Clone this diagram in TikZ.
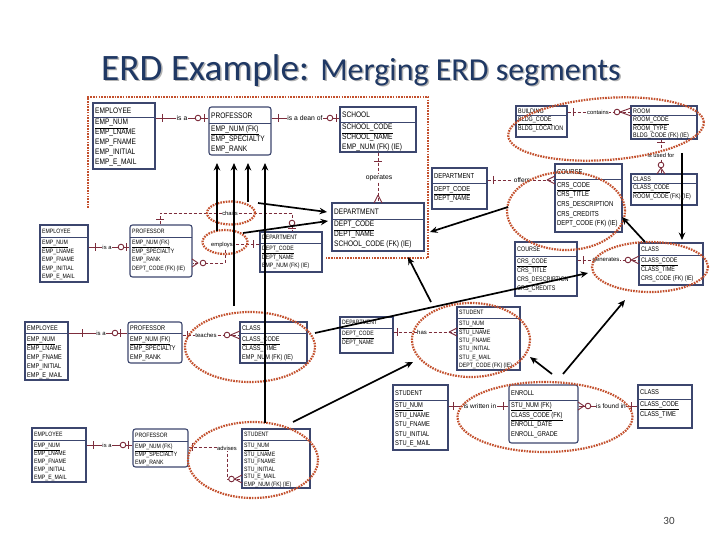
\documentclass[tikz,border=0pt]{standalone}
\usepackage{fontspec}
\setmainfont{Liberation Sans}
\newfontfamily\erd[FakeStretch=0.82]{Liberation Sans}
\newfontfamily\ttlfont{Carlito}
\usetikzlibrary{shapes.geometric,fit,arrows.meta}
\definecolor{relc}{RGB}{125,45,60}
\definecolor{boxc}{RGB}{60,70,110}
\definecolor{hlc}{RGB}{195,80,45}
\definecolor{ttlc}{RGB}{31,56,100}
\def\efs{\fontsize{8}{10}\selectfont}
\def\lfs{\fontsize{6.3}{7}\selectfont}
\def\btop{2}
\tikzset{
 ebox/.style={draw=boxc, line width=1.1pt, inner sep=0pt, fill=white},
 eline/.style={draw=boxc, line width=0.9pt},
 etitle/.style={anchor=west, inner sep=0pt, font=\erd\efs},
 ebody/.style={anchor=north west, inner sep=0pt, align=left, font=\erd\efs},
 rel/.style={draw=relc, line width=0.9pt},
 reld/.style={rel, dash pattern=on 3pt off 2pt},
 rsym/.style={draw=relc, line width=0.9pt},
 rlab/.style={fill=white, inner sep=0.6pt, font=\lfs},
 hl/.style={draw=hlc, line width=2.2pt, dash pattern=on 1.6pt off 1.1pt},
 hlell/.style={hl, ellipse, inner sep=0pt},
 blk/.style={draw=black, line width=1.7pt, -{Stealth[length=7.5pt,width=6.5pt]}},
}
% entity: name, x1, y1, x2, y2, header line y, title, body, extra style
\newcommand\erdent[9]{%
 \path (#2,#3) coordinate (#1-nw) (#4,#5) coordinate (#1-se);
 \node[ebox,fit=(#1-nw)(#1-se),#9] (#1) {};
 \draw[eline] (#2,#6) -- (#4,#6);
 \node[etitle] (#1-t) at ({#2+2},{(#3+#6)/2+0.3}) {#7};
 \node[ebody] (#1-b) at ({#2+2},{#6+\btop}) {#8};
}
\newcommand\tickV[2]{\draw[rsym] (#1,{#2-4}) -- (#1,{#2+4});}
\newcommand\tickH[2]{\draw[rsym] ({#1-4},#2) -- ({#1+4},#2);}
\newcommand\rcirc[2]{\draw[rsym, fill=white] (#1,#2) circle (2.8);}
\newcommand\crowH[3]{\draw[rsym] (#1,#3) -- (#2,{#3-4}) (#1,#3) -- (#2,{#3+4});}
\newcommand\crowV[3]{\draw[rsym] (#3,#1) -- ({#3-4},#2) (#3,#1) -- ({#3+4},#2);}
\begin{document}
\begin{tikzpicture}[x=1pt,y=-1pt]
\path[use as bounding box, fill=white] (0,0) rectangle (720,540);
% title
\node[anchor=base west, inner sep=0pt, text=black!30] (title-sh) at (102.5,82) {\ttlfont\fontsize{37.3}{40}\selectfont ERD Example: \fontsize{32}{36}\selectfont Merging ERD segments};
\node[anchor=base west, inner sep=0pt, text=ttlc] (title) at (101,80.5) {\ttlfont\fontsize{37.3}{40}\selectfont ERD Example: \fontsize{32}{36}\selectfont Merging ERD segments};
\node[font=\ttlfont\fontsize{11}{12}\selectfont, text=black!75, inner sep=0pt] (pg) at (669,521) {30};

% ---------- top segment
\def\efs{\fontsize{8}{10}\selectfont}\def\btop{2.2}
\erdent{emp1}{93}{103}{155}{169}{117}{EMPLOYEE}{\underline{EMP\_NUM}\\EMP\_LNAME\\EMP\_FNAME\\EMP\_INITIAL\\EMP\_E\_MAIL}{}
\erdent{prof1}{209}{107}{271}{155}{123}{PROFESSOR}{\underline{EMP\_NUM (FK)}\\EMP\_SPECIALTY\\EMP\_RANK}{rounded corners=2.5pt}
\erdent{school}{340}{107}{416}{152}{122}{SCHOOL}{\underline{SCHOOL\_CODE}\\SCHOOL\_NAME\\EMP\_NUM (FK) (IE)}{}
\erdent{dept1}{332}{203}{424}{251}{219}{DEPARTMENT}{\underline{DEPT\_CODE}\\DEPT\_NAME\\SCHOOL\_CODE (FK) (IE)}{}

% ---------- top right
\def\efs{\fontsize{6.6}{7.2}\selectfont}\def\btop{2}
\erdent{bldg}{516}{106}{567}{137}{115}{BUILDING}{\underline{BLDG\_CODE}\\BLDG\_LOCATION}{}
\erdent{room}{631}{106}{697}{139}{115}{ROOM}{\underline{ROOM\_CODE}\\ROOM\_TYPE\\BLDG\_CODE (FK) (IE)}{}
\erdent{class1}{631}{174}{697}{205}{183}{CLASS}{\underline{CLASS\_CODE}\\ROOM\_CODE (FK) (IE)}{}
\def\efs{\fontsize{7.2}{9.6}\selectfont}\def\btop{3}
\erdent{dept2}{432}{168}{487}{209}{183}{DEPARTMENT}{\underline{DEPT\_CODE}\\DEPT\_NAME}{}
\erdent{course1}{555}{164}{622}{232}{179}{COURSE}{\underline{CRS\_CODE}\\CRS\_TITLE\\CRS\_DESCRIPTION\\CRS\_CREDITS\\DEPT\_CODE (FK) (IE)}{}

% ---------- left middle
\def\efs{\fontsize{6.3}{8.5}\selectfont}\def\btop{3.2}
\erdent{emp2}{40}{225}{88}{282}{237}{EMPLOYEE}{\underline{EMP\_NUM}\\EMP\_LNAME\\EMP\_FNAME\\EMP\_INITIAL\\EMP\_E\_MAIL}{}
\erdent{prof2}{130}{225}{192}{277}{237}{PROFESSOR}{\underline{EMP\_NUM (FK)}\\EMP\_SPECIALTY\\EMP\_RANK\\DEPT\_CODE (FK) (IE)}{rounded corners=2.5pt}
\erdent{dept3}{260}{232}{322}{272}{243}{DEPARTMENT}{\underline{DEPT\_CODE}\\DEPT\_NAME\\EMP\_NUM (FK) (IE)}{}

% ---------- middle row
\def\efs{\fontsize{6.8}{9}\selectfont}\def\btop{3.3}
\erdent{emp3}{25}{322}{68}{380}{333}{EMPLOYEE}{\underline{EMP\_NUM}\\EMP\_LNAME\\EMP\_FNAME\\EMP\_INITIAL\\EMP\_E\_MAIL}{}
\erdent{prof3}{128}{322}{182}{363}{333}{PROFESSOR}{\underline{EMP\_NUM (FK)}\\EMP\_SPECIALTY\\EMP\_RANK}{rounded corners=2.5pt}
\erdent{class2}{240}{322}{307}{363}{333}{CLASS}{\underline{CLASS\_CODE}\\CLASS\_TIME\\EMP\_NUM (FK) (IE)}{}
\def\efs{\fontsize{6.3}{8.4}\selectfont}\def\btop{3}
\erdent{dept4}{340}{317}{393}{353}{328}{DEPARTMENT}{\underline{DEPT\_CODE}\\DEPT\_NAME}{}
\erdent{student1}{457}{307}{520}{370}{318}{STUDENT}{\underline{STU\_NUM}\\STU\_LNAME\\STU\_FNAME\\STU\_INITIAL\\STU\_E\_MAIL\\DEPT\_CODE (FK) (IE)}{}
\def\efs{\fontsize{6.6}{9.1}\selectfont}\def\btop{2.3}
\erdent{course2}{515}{242}{577}{296}{256}{COURSE}{\underline{CRS\_CODE}\\CRS\_TITLE\\CRS\_DESCRIPTION\\CRS\_CREDITS}{}
\erdent{class3}{639}{243}{703}{285}{255}{CLASS}{\underline{CLASS\_CODE}\\CLASS\_TIME\\CRS\_CODE (FK) (IE)}{}

% ---------- bottom right
\def\efs{\fontsize{7}{9.5}\selectfont}\def\btop{2.5}
\erdent{student2}{393}{385}{448}{450}{400}{STUDENT}{\underline{STU\_NUM}\\STU\_LNAME\\STU\_FNAME\\STU\_INITIAL\\STU\_E\_MAIL}{}
\erdent{enroll}{509}{385}{578}{443}{400}{ENROLL}{\underline{STU\_NUM (FK)}\\\underline{CLASS\_CODE (FK)}\\ENROLL\_DATE\\ENROLL\_GRADE}{rounded corners=2.5pt}
\erdent{class4}{638}{385}{692}{428}{399}{CLASS}{\underline{CLASS\_CODE}\\CLASS\_TIME}{}

% ---------- bottom left
\def\efs{\fontsize{6.3}{8}\selectfont}\def\btop{2.8}
\erdent{emp4}{32}{428}{86}{482}{440}{EMPLOYEE}{\underline{EMP\_NUM}\\EMP\_LNAME\\EMP\_FNAME\\EMP\_INITIAL\\EMP\_E\_MAIL}{}
\erdent{prof4}{133}{429}{188}{467}{441}{PROFESSOR}{\underline{EMP\_NUM (FK)}\\EMP\_SPECIALTY\\EMP\_RANK}{rounded corners=2.5pt}
\def\efs{\fontsize{6.3}{7.6}\selectfont}
\erdent{student3}{242}{429}{310}{488}{440}{STUDENT}{\underline{STU\_NUM}\\STU\_LNAME\\STU\_FNAME\\STU\_INITIAL\\STU\_E\_MAIL\\EMP\_NUM (FK) (IE)}{}

% ---------- relationships
\def\lfs{\fontsize{6.8}{7.5}\selectfont}
\draw[rel] (emp1.east |- 0,118) -- (prof1.west |- 0,118);
\tickV{162}{118} \node[rlab] (l-isa1) at (182,118) {is a}; \rcirc{198}{118} \tickV{204}{118}
\draw[rel] (prof1.east |- 0,118) -- (school.west |- 0,118);
\tickV{278}{118} \node[rlab] (l-dean) at (305,118) {is a dean of}; \rcirc{330}{118} \tickV{336}{118}
\draw[reld] (school.south) -- (dept1.north);
\tickH{378}{161} \node[rlab] (l-oper) at (379,178) {operates}; \crowV{195}{203}{378}

\def\lfs{\fontsize{5.8}{6.5}\selectfont}
\draw[reld] (bldg.east |- 0,112) -- (room.west |- 0,112);
\tickV{573}{112} \node[rlab] (l-cont) at (598,112) {contains}; \rcirc{617}{112} \crowH{620}{631}{112}
\draw[reld] (room.south -| 661,0) -- (class1.north -| 661,0);
\tickH{661}{142} \node[rlab] (l-used) at (661,155) {is used for}; \rcirc{661}{165} \crowV{168}{174}{661}
\def\lfs{\fontsize{6.5}{7}\selectfont}
\draw[reld] (dept2.east |- 0,180) -- (course1.west |- 0,180);
\tickV{493}{180} \node[rlab] (l-offers) at (522,180) {offers}; \crowH{547}{555}{180}

\def\lfs{\fontsize{5.8}{6.5}\selectfont}
\draw[rel] (emp2.east |- 0,247) -- (prof2.west |- 0,247);
\tickV{95}{247} \node[rlab] (l-isa2) at (107,247) {is a}; \rcirc{121}{247} \tickV{126}{247}
\draw[reld] (prof2.north -| 160,0) -- (160,213) -- (292,213) -- (dept3.north -| 292,0);
\tickH{160}{219} \node[rlab] (l-chairs) at (230,213) {chairs}; \rcirc{292}{223} \tickH{292}{228.5}
\draw[reld] (dept3.west |- 0,244) -- (225,244) -- (225,263) -- (prof2.east |- 0,263);
\tickV{253}{244} \node[rlab] (l-empl) at (222,245) {employs}; \rcirc{203}{263} \crowH{198}{192}{263}

\def\lfs{\fontsize{6}{7}\selectfont}
\draw[rel] (emp3.east |- 0,333) -- (prof3.west |- 0,333);
\tickV{82}{333} \node[rlab] (l-isa3) at (101,333) {is a}; \rcirc{115}{333} \tickV{120.5}{333}
\draw[reld] (prof3.east |- 0,335) -- (class2.west |- 0,335);
\tickV{187}{335} \node[rlab] (l-teach) at (206,335) {teaches}; \rcirc{227}{335} \crowH{230.5}{240}{335}
\draw[reld] (dept4.east |- 0,332) -- (student1.west |- 0,332);
\tickV{397}{332} \node[rlab] (l-has) at (422,332) {has}; \crowH{449}{457}{332}
\draw[reld] (course2.east |- 0,260) -- (class3.west |- 0,260);
\tickV{583}{260} \node[rlab] (l-gen) at (606,260) {generates}; \rcirc{628}{260} \crowH{631}{639}{260}

\def\lfs{\fontsize{6.5}{7}\selectfont}
\draw[rel] (student2.east |- 0,406) -- (enroll.west |- 0,406);
\tickV{453}{406} \node[rlab] (l-writ) at (480,406) {is written in}; \tickV{503}{406}
\draw[rel] (enroll.east |- 0,406) -- (class4.west |- 0,406);
\crowH{584}{578}{406} \rcirc{588}{406} \node[rlab] (l-found) at (611,406) {is found in}; \tickV{631}{406}

\def\lfs{\fontsize{5.8}{6.5}\selectfont}
\draw[rel] (emp4.east |- 0,445) -- (prof4.west |- 0,445);
\tickV{93}{445} \node[rlab] (l-isa4) at (107,445) {is a}; \rcirc{123}{445} \tickV{128}{445}
\draw[reld] (prof4.east |- 0,447) -- (227,447) -- (227,479) -- (student3.west |- 0,479);
\tickV{192}{447} \node[rlab] (l-adv) at (227,448) {advises}; \rcirc{231.5}{479} \crowH{234.5}{242}{479}

% ---------- highlights
\draw[hl] (88,208) -- (88,97) -- (428,97) -- (428,258) -- (325,258);
\node[hlell, minimum width=196pt, minimum height=62pt, rotate=4] (e-bldg) at (606,129) {};
\node[hlell, minimum width=118pt, minimum height=78pt] (e-course) at (566,211) {};
\node[hlell, minimum width=116pt, minimum height=50pt] (e-class) at (650,267) {};
\node[hlell, minimum width=118pt, minimum height=74pt] (e-stu) at (471,340) {};
\node[hlell, minimum width=130pt, minimum height=70pt] (e-teach) at (250,347) {};
\node[hlell, minimum width=48pt, minimum height=23pt] (e-chairs) at (231,213) {};
\node[hlell, minimum width=45pt, minimum height=24pt] (e-empl) at (225,242) {};
\node[hlell, minimum width=175pt, minimum height=70pt] (e-enroll) at (545,417) {};
\node[hlell, minimum width=130pt, minimum height=76pt] (e-adv) at (253,460) {};

% ---------- black arrows
\coordinate (a1s) at (217,231); \coordinate (a1e) at (217,163);
\coordinate (a2s) at (234,306); \coordinate (a2e) at (234,163);
\coordinate (a3s) at (248,202); \coordinate (a3e) at (248,163);
\coordinate (a4s) at (265,423); \coordinate (a4e) at (265,163);
\coordinate (a5s) at (258,203); \coordinate (a5e) at (327,212);
\coordinate (a6s) at (243,233); \coordinate (a6e) at (328,221);
\coordinate (a7s) at (508,207); \coordinate (a7e) at (430,232);
\coordinate (a8s) at (431,302); \coordinate (a8e) at (408,257);
\coordinate (a9s) at (315,333); \coordinate (a9e) at (588,273);
\coordinate (a10s) at (682,153); \coordinate (a10e) at (682,240);
\coordinate (a11s) at (645,242); \coordinate (a11e) at (622,217);
\coordinate (a12s) at (563,374); \coordinate (a12e) at (625,300);
\coordinate (a13s) at (552,374); \coordinate (a13e) at (530,357);
\coordinate (a14s) at (293,422); \coordinate (a14e) at (413,362);
\foreach \i in {1,...,14} {\draw[blk] (a\i s) -- (a\i e);}
\end{tikzpicture}
\end{document}
